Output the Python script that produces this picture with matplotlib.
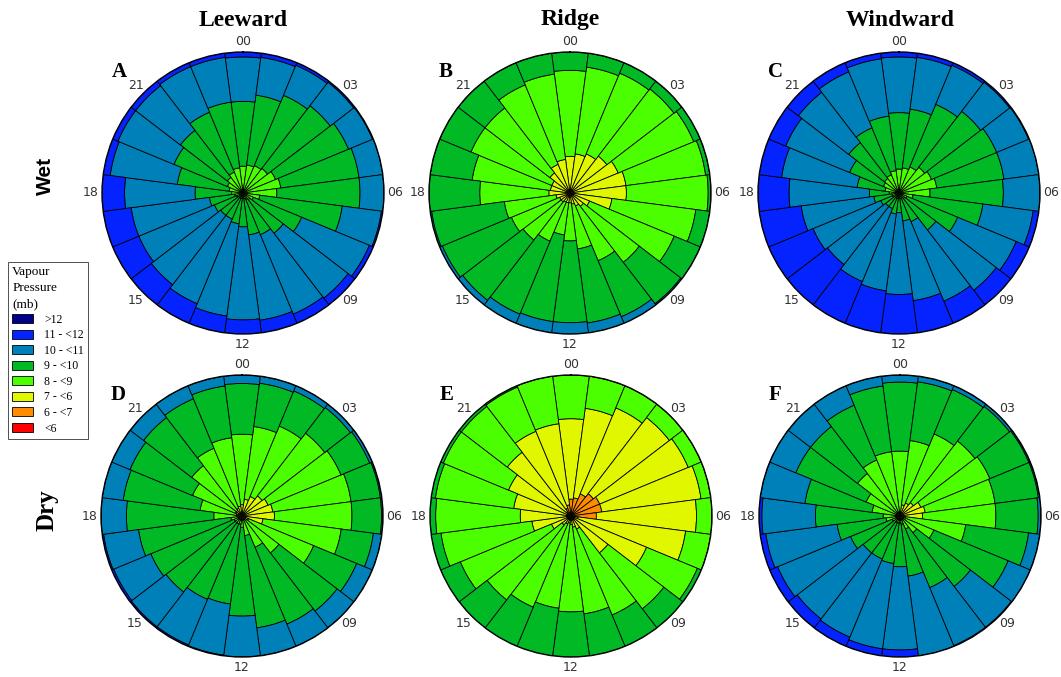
import numpy as np
import matplotlib
matplotlib.use("Agg")
import matplotlib.pyplot as plt
from matplotlib.patches import Patch

# hour sectors and labels
hours = np.arange(24)
hour_labels = ["00", "03", "06", "09", "12", "15", "18", "21"]

# vapour pressure classes, inner to outer
class_names = ["<6", "6 - <7", "7 - <6", "8 - <9", "9 - <10", "10 - <11", "11 - <12", ">12"]
class_colors = ["#ff0000", "#ff8c00", "#e1f700", "#4cff00", "#00b925", "#0080b8", "#0523ff", "#00008a"]

# cumulative outer edge (%) of each class per hour
# the outermost class of each panel fills the rest up to 100
# A - leeward wet
A_c3 = [19, 20, 21, 22, 25, 27, 24, 12, 8, 6, 5, 4, 4, 4, 4, 4, 5, 6, 8, 10, 12, 14, 16, 18]
A_c4 = [65, 70, 75, 78, 81, 83, 83, 71, 45, 36, 32, 30, 24, 22, 20, 20, 22, 24, 34, 47, 53, 56, 62, 65]
A_c5 = [96.5, 97, 98, 99, 99.5, 100, 100, 99, 97, 94, 93, 91, 90, 88, 85, 82, 80, 80, 84, 95, 96, 96, 97, 97]

# B - ridge wet
B_c2 = [26, 28, 30, 33, 37, 40, 40, 30, 15, 12, 10, 8, 7, 7, 7, 8, 8, 10, 15, 14, 14, 18, 22, 24]
B_c3 = [87, 90, 92, 93, 95, 97, 98, 90, 80, 62, 52, 40, 34, 30, 37, 42, 45, 47, 64, 70, 76, 76, 83, 85]
B_c4 = [100, 100, 100, 100, 100, 100, 100, 100, 100, 99, 95, 93, 92, 92, 93, 96, 98, 99, 100, 100, 100, 100, 100, 100]

# C - windward wet
C_c3 = [17, 18, 20, 23, 25, 27, 22, 10, 6, 5, 4, 4, 4, 4, 4, 4, 5, 5, 7, 10, 12, 13, 14, 16]
C_c4 = [57, 60, 68, 73, 75, 75, 74, 60, 45, 33, 22, 20, 14, 15, 12, 12, 14, 18, 21, 30, 38, 45, 50, 55]
C_c5 = [96.5, 97, 98, 99, 99.5, 100, 100, 96, 90, 87, 83, 77, 72, 70, 68, 64, 66, 70, 78, 84, 87, 90, 93, 96]

# D - leeward dry
D_c2 = [8, 12, 15, 18, 20, 22, 23, 15, 5, 4, 3, 3, 3, 3, 3, 3, 3, 3, 4, 4, 5, 5, 6, 7]
D_c3 = [58, 64, 69, 74, 76, 78, 78, 71, 55, 33, 24, 14, 8, 6, 6, 6, 6, 8, 20, 30, 38, 45, 52, 56]
D_c4 = [94, 95, 96, 97, 98, 99, 99, 94, 88, 85, 83, 80, 71, 63, 64, 68, 70, 74, 82, 85, 86, 88, 90, 93]
D_c5 = [100, 100, 100, 100, 100, 100, 100, 100, 100, 100, 100, 100, 100, 99.5, 99, 99, 98.5, 99, 100, 100, 100, 100, 100, 100]

# E - ridge dry
E_c1 = [12, 13, 17, 20, 22, 22, 18, 5, 3, 3, 3, 3, 3, 3, 3, 3, 3, 3, 3, 3, 3, 4, 6, 8]
E_c2 = [69, 77, 83, 88, 90, 93, 89, 82, 58, 33, 10, 8, 6, 5, 6, 8, 15, 28, 36, 41, 48, 57, 65, 66]
E_c3 = [100, 100, 100, 100, 100, 100, 100, 100, 97, 83, 76, 70, 68, 66, 70, 75, 85, 93, 96, 97, 98, 98, 99, 100]

# F - windward dry
F_c2 = [3, 8, 10, 12, 16, 18, 16, 4, 3, 3, 3, 3, 3, 3, 3, 3, 3, 3, 3, 3, 3, 3, 3, 3]
F_c3 = [46, 54, 63, 67, 69, 68, 68, 47, 26, 15, 10, 6, 5, 5, 5, 5, 6, 10, 12, 20, 26, 38, 43, 46]
F_c4 = [95, 96, 97, 98, 99, 99, 98, 92, 83, 63, 55, 43, 36, 34, 33, 33, 38, 45, 60, 68, 80, 80, 85, 93]
F_c5 = [100, 100, 100, 100, 100, 100, 100, 100, 100, 99.5, 99.5, 100, 95, 95, 93, 92, 94, 96, 98, 100, 100, 100, 100, 100]

# (letter, first class index, cumulative edges, panel center px)
panels = [
    ("A", 3, [A_c3, A_c4, A_c5], (243, 193)),
    ("B", 2, [B_c2, B_c3, B_c4], (570, 193)),
    ("C", 3, [C_c3, C_c4, C_c5], (899, 193)),
    ("D", 2, [D_c2, D_c3, D_c4, D_c5], (242, 516)),
    ("E", 1, [E_c1, E_c2, E_c3], (571, 516)),
    ("F", 2, [F_c2, F_c3, F_c4, F_c5], (900, 516)),
]

W, H = 1061, 677
R = 141
fig = plt.figure(figsize=(W / 100, H / 100), dpi=100)

theta = hours * 2 * np.pi / 24
width = 2 * np.pi / 24

for letter, first, edges, (cx, cy) in panels:
    ax = fig.add_axes([(cx - R) / W, 1 - (cy + R) / H, 2 * R / W, 2 * R / H], projection="polar")
    ax.set_theta_zero_location("N")
    ax.set_theta_direction(-1)
    bottom = np.zeros(24)
    for k, edge in enumerate(edges):
        top = np.array(edge, dtype=float)
        ax.bar(theta, top - bottom, width=width, bottom=bottom,
               color=class_colors[first + k], edgecolor="black", linewidth=0.6)
        bottom = top
    # outermost class takes what is left
    ax.bar(theta, 100 - bottom, width=width, bottom=bottom,
           color=class_colors[first + len(edges)], edgecolor="black", linewidth=0.6)
    ax.set_ylim(0, 100)
    ax.set_yticks([])
    ax.set_xticks([])
    ax.grid(False)
    ax.spines["polar"].set_color("black")
    ax.spines["polar"].set_linewidth(1.0)
    # hour labels just outside the rim
    for t, lab in zip(theta[::3], hour_labels):
        ax.text(t, 107.8, lab, fontsize=9, color="#333333", ha="center", va="center")
    fig.text((cx - 131) / W, 1 - (cy - 121) / H, letter, fontsize=15, fontweight="bold",
             family="Liberation Serif", ha="left", va="center")

# column and row headings
for name, x in [("Leeward", 243), ("Ridge", 570), ("Windward", 900)]:
    fig.text(x / W, 1 - 20 / H, name, fontsize=17, fontweight="bold",
             family="Liberation Serif", ha="center", va="center")
fig.text(45 / W, 1 - 176 / H, "Wet", fontsize=15, fontweight="bold", family="Liberation Sans",
         rotation=90, ha="center", va="center")
fig.text(47 / W, 1 - 510 / H, "Dry", fontsize=18, fontweight="bold", family="Liberation Serif",
         rotation=90, ha="center", va="center")

# legend, highest class first
handles = [Patch(facecolor=c, edgecolor="black", linewidth=0.6) for c in class_colors[::-1]]
leg = fig.legend(handles, class_names[::-1], title="Vapour\nPressure\n(mb)",
                 loc="upper left", bbox_to_anchor=(8 / W, 1 - 262 / H),
                 prop={"family": "Liberation Serif", "size": 8.5},
                 title_fontproperties={"family": "Liberation Serif", "size": 9.5},
                 alignment="left", frameon=True, fancybox=False, edgecolor="black",
                 handlelength=1.8, handleheight=0.8, labelspacing=0.3, borderpad=0.35,
                 handletextpad=0.9, borderaxespad=0)
leg.get_title().set_linespacing(1.45)
leg.get_frame().set_linewidth(0.6)

fig.savefig("out.png", dpi=100)
